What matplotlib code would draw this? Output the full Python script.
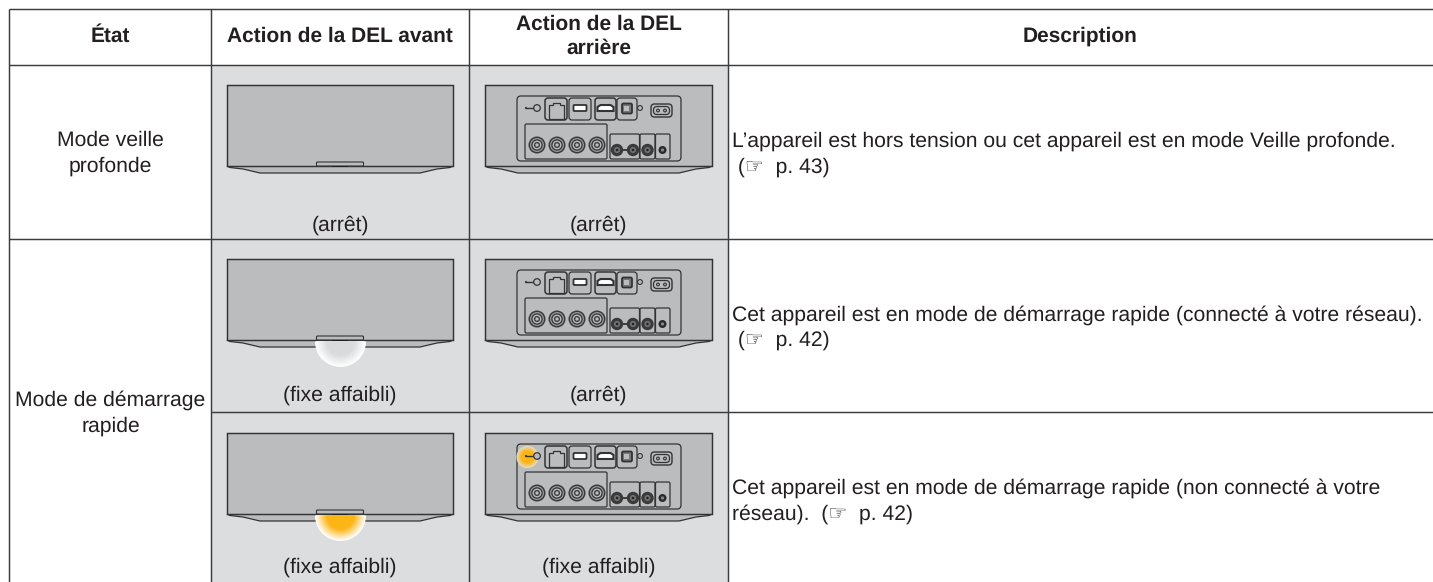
import matplotlib
matplotlib.use("Agg")
import matplotlib.pyplot as plt
from matplotlib.colors import to_rgb
from matplotlib.patches import Rectangle, Circle, Wedge, FancyBboxPatch, Polygon

plt.rcParams["text.hinting"] = "none"

headers = ["État", "Action de la DEL avant", "Action de la DEL\narrière", "Description"]
states = ["Mode veille\nprofonde", "Mode de démarrage\nrapide"]
front_labels = ["(arrêt)", "(fixe affaibli)", "(fixe affaibli)"]
rear_labels = ["(arrêt)", "(arrêt)", "(fixe affaibli)"]
descriptions = [
    "L’appareil est hors tension ou cet appareil est en mode Veille profonde.\n (☞  p. 43)",
    "Cet appareil est en mode de démarrage rapide (connecté à votre réseau).\n (☞  p. 42)",
    "Cet appareil est en mode de démarrage rapide (non connecté à votre\nréseau).  (☞  p. 42)",
]
front_glow = [None, "#d9dadb", "#fdb515"]
rear_glow = [None, None, "#fdb515"]

W, H = 1433, 582
col_x = [9.5, 211, 469, 728, W]
row_y = [9, 65, 238.5, 412, H]
device_top = [85, 259, 433]
label_y = [225, 395, 567.5]
desc_y = [154, 327.5, 501]
state_y = [153, 413]
INK = "#333334"
TXT = "#231f20"
CELL = "#dcddde"
BODY = "#bbbcbe"
FONT = ["Liberation Sans", "DejaVu Sans"]

fig = plt.figure(figsize=(W / 100, H / 100), dpi=100)
ax = fig.add_axes([0, 0, 1, 1])
ax.set_xlim(0, W)
ax.set_ylim(H, 0)
ax.axis("off")


def rect(x0, y0, x1, y1, fc="none", ec=INK, lw=0.9, rounded=0, z=3):
    if rounded:
        p = FancyBboxPatch((x0, y0), x1 - x0, y1 - y0, boxstyle=f"round,pad=0,rounding_size={rounded}",
                           fc=fc, ec=ec, lw=lw, zorder=z)
    else:
        p = Rectangle((x0, y0), x1 - x0, y1 - y0, fc=fc, ec=ec, lw=lw, zorder=z)
    ax.add_patch(p)


def glow(x, y, r, colour, half, edge="#ffffff"):
    n = 30
    inner = to_rgb(colour)
    outer = to_rgb(edge)
    for i in range(n):
        f = 1 - i / n
        t = min(1.0, (1 - f) / 0.45)
        c = tuple(b + (a - b) * t for a, b in zip(inner, outer))
        if half:
            ax.add_patch(Wedge((x, y), r * f, 0, 180, fc=c, ec="none", zorder=6))
        else:
            ax.add_patch(Circle((x, y), r * f, fc=c, ec="none", zorder=4))


def shell(x0, x1, top, tab):
    bot = top + 81
    ax.add_patch(Polygon([(x0, bot), (x0 + 3, bot + 1.5), (x0 + 16, bot + 3), (x0 + 33, bot + 7), (x1 - 33, bot + 7),
                          (x1 - 16, bot + 3), (x1 - 3, bot + 1.5), (x1, bot)], fc=BODY, ec=INK, lw=0.9, zorder=2))
    rect(x0, top, x1, bot, fc=BODY, lw=1.05, z=2)
    if tab:
        mid = (x0 + x1) / 2
        rect(mid - 23.5, bot - 4, mid + 23.5, bot, fc=BODY, lw=0.8, rounded=1, z=3)
        rect(mid - 8, bot - 0.5, mid + 8, bot + 1, fc="#222222", ec="none", z=3)


def front(top, colour):
    shell(227, 453, top, True)
    if colour:
        glow(340.5, top + 82.5, 25.5, colour, True)


def socket(x, y, r):
    for f, c in [(1, "#3a3a3b"), (0.82, "#9a9b9c"), (0.68, "#3a3a3b"), (0.52, "#bbbcbe"), (0.36, "#3a3a3b"), (0.2, "#bbbcbe")]:
        ax.add_patch(Circle((x, y), r * f, fc=c, ec="none", zorder=4))


def rear(top, colour):
    shell(485, 712, top, False)
    t = top - 433
    rect(517, 444 + t, 681, 509 + t, rounded=4)
    if colour:
        glow(527.5, 457 + t, 11, colour, False, edge="#e6dcc4")
    # standby key
    ax.plot([526, 534], [456 + t] * 2, color=INK, lw=1.0, zorder=5)
    ax.add_patch(Circle((526, 456 + t), 1.1, fc=INK, ec="none", zorder=5))
    ax.add_patch(Circle((537, 456 + t), 3.3, fc=BODY, ec=INK, lw=0.9, zorder=5))
    # upper connectors
    rect(545, 446 + t, 567, 468 + t, rounded=3, lw=1.1)
    rect(569, 446 + t, 591, 468 + t, rounded=3)
    rect(595, 446 + t, 616, 468 + t, rounded=3, lw=1.1)
    rect(617, 446 + t, 637, 468 + t, rounded=3)
    ax.add_patch(Polygon([(549, 467 + t), (549, 453 + t), (553, 453 + t), (553, 450.5 + t), (560, 450.5 + t),
                          (560, 453 + t), (564, 453 + t), (564, 467 + t)], fc="none", ec=INK, lw=0.9, zorder=4))
    rect(573.5, 453 + t, 586.5, 459 + t, fc="white", ec=INK, lw=1.3, rounded=1)
    ax.add_patch(Polygon([(597.5, 459 + t), (597.5, 455 + t), (600.5, 453 + t), (610.5, 453 + t), (613.5, 455 + t),
                          (613.5, 459 + t)], fc="white", ec=INK, lw=1.5, zorder=4))
    rect(622, 451.5 + t, 632, 461.5 + t, fc="#777778", ec=INK, lw=1.3, rounded=1.5)
    rect(624.5, 454 + t, 629.5, 459 + t, fc=BODY, ec="none", z=4)
    ax.add_patch(Circle((640, 456 + t), 2.4, fc=BODY, ec=INK, lw=0.8, zorder=4))
    rect(651, 452 + t, 672, 465 + t, rounded=3.5, lw=1.0)
    rect(653.5, 454.5 + t, 669.5, 462.5 + t, rounded=3.5, lw=0.9)
    for x in (658, 665):
        ax.add_patch(Circle((x, 458.5 + t), 1.4, fc="none", ec=INK, lw=0.8, zorder=4))
    # lower connectors
    rect(525, 472 + t, 607, 507 + t, rounded=1.5)
    for x in (537, 557, 577, 597):
        socket(x, 493 + t, 8.5)
    rect(610, 482 + t, 639.5, 507 + t, rounded=1.5)
    rect(640, 482 + t, 655, 507 + t, rounded=1.5)
    rect(655.5, 482 + t, 670, 507 + t, rounded=1.5)
    ax.plot([617, 633], [498 + t] * 2, color=INK, lw=1.3, zorder=4)
    for x, r in ((617, 6.2), (633, 6.2), (647.5, 6.2)):
        ax.add_patch(Circle((x, 498 + t), r, fc="#3a3a3b", ec="none", zorder=4))
        ax.add_patch(Circle((x, 498 + t), r * 0.5, fc="#707071", ec="none", zorder=4))
        ax.add_patch(Circle((x, 498 + t), r * 0.2, fc="#222222", ec="none", zorder=4))
    ax.add_patch(Circle((662.5, 498 + t), 4, fc="#2a2a2b", ec="none", zorder=4))
    ax.add_patch(Circle((662.5, 498 + t), 1.6, fc="#8a8a8b", ec="none", zorder=4))


# cell background
ax.add_patch(Rectangle((col_x[1], row_y[1]), col_x[3] - col_x[1], H - row_y[1], fc=CELL, ec="none", zorder=1))

# grid lines
GRID = dict(color="#3c3c3d", lw=1.05, zorder=8, solid_capstyle="butt")
ax.plot([col_x[0], W], [row_y[0]] * 2, **GRID)
ax.plot([col_x[0], W], [row_y[1]] * 2, **GRID)
ax.plot([col_x[0], W], [row_y[2]] * 2, **GRID)
ax.plot([col_x[1], W], [row_y[3]] * 2, **GRID)
for x in col_x[:4]:
    ax.plot([x, x], [row_y[0], H], **GRID)

# header
for i, h in enumerate(headers):
    ax.text((col_x[i] + col_x[i + 1]) / 2, 36.5, h, ha="center", va="center", family=FONT,
            weight="bold", fontsize=15.05, color=TXT, linespacing=1.32)

# body text
BODYFONT = dict(family=FONT, fontsize=15.2, color=TXT)
for s, y in zip(states, state_y):
    ax.text(110.5, y, s, ha="center", va="center", linespacing=1.39, **BODYFONT)
for i in range(3):
    front(device_top[i], front_glow[i])
    rear(device_top[i], rear_glow[i])
    ax.text(340, label_y[i], front_labels[i], ha="center", va="center", **BODYFONT)
    ax.text(598.5, label_y[i], rear_labels[i], ha="center", va="center", **BODYFONT)
    ax.text(732.5, desc_y[i], descriptions[i], ha="left", va="center", linespacing=1.39, **BODYFONT)

fig.savefig("out.png", dpi=100, facecolor="white")
